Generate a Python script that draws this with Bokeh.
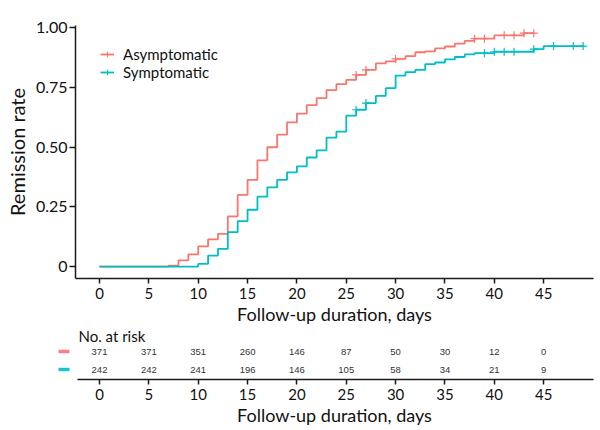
import numpy as np
from bokeh.plotting import figure
from bokeh.layouts import column
from bokeh.models import Range1d, FixedTicker, Legend, LegendItem, LinearAxis
from bokeh.core.properties import value
from bokeh.embed import file_html
from bokeh.resources import INLINE

# ---- data ----
asym_t = [0, 7, 8, 9, 10, 11, 12, 13, 14, 15, 16, 17, 18, 19, 20, 21, 22, 23, 24, 25,
          26, 27, 28, 29, 30, 31, 32, 33, 34, 35, 36, 37, 38, 40, 43, 44]
asym_y = [0, 0.004, 0.026, 0.051, 0.085, 0.114, 0.137, 0.21, 0.30, 0.363, 0.445, 0.50,
          0.553, 0.604, 0.641, 0.676, 0.706, 0.739, 0.764, 0.782, 0.803, 0.824, 0.851,
          0.86, 0.870, 0.882, 0.898, 0.902, 0.914, 0.922, 0.934, 0.946, 0.955, 0.969,
          0.978, 0.978]
asym_cens = [26, 27, 30, 38, 39, 41, 42, 43, 44]

sym_t = [0, 10, 11, 12, 13, 14, 15, 16, 17, 18, 19, 20, 21, 22, 23, 24, 25, 26, 27, 28,
         29, 30, 31, 32, 33, 34, 35, 36, 37, 38, 40, 44, 45, 49]
sym_y = [0, 0.011, 0.046, 0.074, 0.144, 0.19, 0.238, 0.293, 0.332, 0.363, 0.395, 0.42,
         0.457, 0.487, 0.54, 0.565, 0.632, 0.657, 0.685, 0.715, 0.748, 0.80, 0.815,
         0.824, 0.848, 0.855, 0.868, 0.878, 0.889, 0.894, 0.900, 0.911, 0.924, 0.924]
sym_cens = [26, 27, 39, 40, 41, 42, 44, 46, 48, 49]

risk_times = [0, 5, 10, 15, 20, 25, 30, 35, 40, 45]
risk_asym = [371, 371, 351, 260, 146, 87, 50, 30, 12, 0]
risk_sym = [242, 242, 241, 196, 146, 105, 58, 34, 21, 9]

x_ticks = [0, 5, 10, 15, 20, 25, 30, 35, 40, 45]
y_ticks = [0, 0.25, 0.5, 0.75, 1.0]
y_tick_labels = ["0", "0.25", "0.50", "0.75", "1.00"]

RED = "#F8766D"
CYAN = "#00BFC4"
FONT = "Lato"
TXT = "#111111"
AX = "#1a1a1a"

X_RANGE = (-2.432, 50.05)   # frame spans page x 75..593
ROW_Y_ASYM = 28
ROW_Y_SYM = 9.7


def step_at(ts, ys, t):
    idx = np.searchsorted(np.array(ts), t, side="right") - 1
    return ys[idx]


def style_xaxis(ax, lo):
    ax.ticker = FixedTicker(ticks=x_ticks)
    ax.bounds = (lo, X_RANGE[1])
    ax.axis_label = "Follow-up duration, days"
    ax.axis_label_text_font = FONT
    ax.axis_label_text_font_size = "18px"
    ax.axis_label_text_font_style = "normal"
    ax.axis_label_text_color = TXT
    ax.axis_label_standoff = 1
    ax.major_label_text_font = FONT
    ax.major_label_text_font_size = "15px"
    ax.major_label_text_color = TXT
    ax.major_label_standoff = 4
    ax.major_tick_out = 5
    ax.major_tick_in = 0
    ax.minor_tick_out = 0
    ax.minor_tick_in = 0
    ax.axis_line_width = 1.5
    ax.axis_line_color = AX
    ax.major_tick_line_width = 1.5
    ax.major_tick_line_color = AX


def make_legend(items, loc):
    lg = Legend(items=items, location=loc)
    lg.border_line_color = None
    lg.background_fill_alpha = 0
    lg.label_text_font = FONT
    lg.label_text_font_size = "15px"
    lg.label_text_color = TXT
    lg.glyph_width = 14
    lg.glyph_height = 16
    lg.label_height = 16
    lg.label_standoff = 9
    lg.spacing = 0
    lg.padding = 0
    lg.margin = 0
    return lg


# ---- main KM figure ----
p = figure(width=595, height=327, output_backend="svg", toolbar_location=None,
           x_range=Range1d(*X_RANGE), y_range=Range1d(-0.05, 1.01),
           min_border_left=75, min_border_right=2, min_border_top=25,
           min_border_bottom=49)
p.outline_line_color = None
p.grid.visible = False
p.background_fill_color = "white"
p.border_fill_color = "white"

style_xaxis(p.xaxis[0], X_RANGE[0])
ya = p.yaxis[0]
ya.ticker = FixedTicker(ticks=y_ticks)
ya.major_label_overrides = {t: l for t, l in zip(y_ticks, y_tick_labels)}
ya.axis_label = "Remission rate"
ya.axis_label_text_font = FONT
ya.axis_label_text_font_size = "20px"
ya.axis_label_text_font_style = "normal"
ya.axis_label_text_color = TXT
ya.axis_label_standoff = 4
ya.major_label_text_font = FONT
ya.major_label_text_font_size = "16px"
ya.major_label_text_color = TXT
ya.major_label_standoff = 2
ya.major_tick_out = 6
ya.major_tick_in = 0
ya.minor_tick_out = 0
ya.minor_tick_in = 0
ya.axis_line_width = 1.5
ya.axis_line_color = AX
ya.major_tick_line_width = 1.5
ya.major_tick_line_color = AX

r_line_a = p.step(asym_t, asym_y, mode="after", line_color=RED, line_width=1.8)
r_line_s = p.step(sym_t, sym_y, mode="after", line_color=CYAN, line_width=1.8)
r_cens_a = p.scatter(asym_cens, [step_at(asym_t, asym_y, t) for t in asym_cens],
                     marker="cross", size=8, line_color=RED, line_width=1.2)
r_cens_s = p.scatter(sym_cens, [step_at(sym_t, sym_y, t) for t in sym_cens],
                     marker="cross", size=8, line_color=CYAN, line_width=1.2)

p.add_layout(make_legend(
    [LegendItem(label="Asymptomatic", renderers=[r_line_a, r_cens_a])],
    (25, 215)), "center")
p.add_layout(make_legend(
    [LegendItem(label="Symptomatic", renderers=[r_line_s, r_cens_s])],
    (25, 197)), "center")

# ---- risk table figure ----
q = figure(width=595, height=101, output_backend="svg", toolbar_location=None,
           x_range=Range1d(*X_RANGE), y_range=Range1d(0, 52),
           min_border_left=75, min_border_right=2, min_border_top=0,
           min_border_bottom=49)
q.outline_line_color = None
q.grid.visible = False
q.yaxis.visible = False
style_xaxis(q.xaxis[0], -2.2)

q.text(x=[-2.13], y=[44], text=["No. at risk"], text_font=value(FONT),
       text_font_size="15px", text_align="left", text_baseline="middle",
       text_color=TXT)
q.text(x=risk_times, y=[ROW_Y_ASYM] * len(risk_times), text=[str(v) for v in risk_asym],
       text_font=value("Liberation Sans"), text_font_size="9.5px",
       text_align="center", text_baseline="middle", text_color="#333333")
q.text(x=risk_times, y=[ROW_Y_SYM] * len(risk_times), text=[str(v) for v in risk_sym],
       text_font=value("Liberation Sans"), text_font_size="9.5px",
       text_align="center", text_baseline="middle", text_color="#333333")


# coloured group keys left of the risk rows: drawn as the single major tick
# of a label-less left axis for each group
def key_axis(row_y, color, tick_in, tick_out):
    ax = LinearAxis(ticker=FixedTicker(ticks=[row_y]),
                    major_label_overrides={row_y: ""})
    ax.axis_line_color = None
    ax.major_label_standoff = 0
    ax.major_label_text_font_size = "1px"
    ax.minor_tick_in = 0
    ax.minor_tick_out = 0
    ax.major_tick_in = tick_in
    ax.major_tick_out = tick_out
    ax.major_tick_line_color = color
    ax.major_tick_line_width = 3.5
    ax.major_tick_line_cap = "butt"
    ax.major_tick_line_alpha = 0.9
    return ax


q.add_layout(key_axis(ROW_Y_ASYM, RED, -6, 17), "left")
q.add_layout(key_axis(ROW_Y_SYM, CYAN, 11, 0), "left")

layout = column(p, q, spacing=0)
open("out.html", "w").write(file_html(layout, INLINE))
